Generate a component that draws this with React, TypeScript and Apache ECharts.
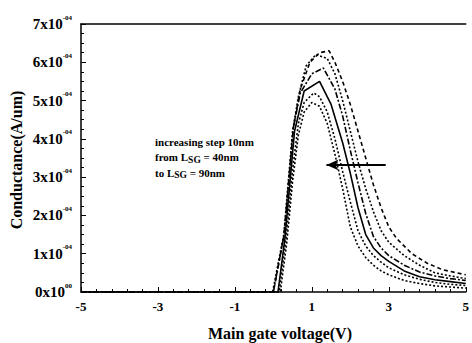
import React, { useEffect, useRef } from "react";
import * as echarts from "echarts";

// Conductance in units of 1e-4 A/um, voltage in V
const xA = [-5, 0.18, 0.35, 0.5, 0.65, 0.8, 1.0, 1.2, 1.4, 1.6, 1.8, 2.0, 2.2, 2.4, 2.6, 2.8, 3.0, 3.4, 3.8, 4.2, 4.6, 5.0];
const yA = [0, 0, 1.3, 2.9, 4.1, 4.7, 4.95, 4.85, 4.4, 3.6, 2.7, 1.7, 1.2, 0.9, 0.7, 0.55, 0.45, 0.3, 0.22, 0.16, 0.13, 0.1];
const xB = [-5, 0.15, 0.33, 0.5, 0.65, 0.8, 1.05, 1.2, 1.4, 1.6, 1.8, 2.0, 2.2, 2.4, 2.6, 2.8, 3.0, 3.4, 3.8, 4.2, 4.6, 5.0];
const yB = [0, 0, 1.4, 3.2, 4.4, 4.95, 5.2, 5.1, 4.7, 4.0, 3.15, 2.35, 1.6, 1.2, 0.95, 0.78, 0.63, 0.45, 0.33, 0.25, 0.2, 0.17];
const xC = [-5, 0.12, 0.3, 0.55, 0.8, 1.2, 1.5, 1.8, 2.0, 2.2, 2.4, 2.6, 2.8, 3.0, 3.4, 3.8, 4.2, 4.6, 5.0];
const yC = [0, 0, 1.4, 4.2, 5.25, 5.5, 4.9, 3.9, 3.1, 2.2, 1.5, 1.15, 0.95, 0.8, 0.55, 0.4, 0.32, 0.27, 0.22];
const xD = [-5, 0.0, 0.28, 0.52, 0.7, 1.0, 1.3, 1.6, 1.8, 2.0, 2.2, 2.4, 2.6, 2.8, 3.0, 3.4, 3.8, 4.2, 4.6, 5.0];
const yD = [0, 0, 1.5, 4.3, 5.2, 5.7, 5.85, 5.3, 4.6, 3.7, 2.85, 2.05, 1.45, 1.15, 0.95, 0.7, 0.52, 0.42, 0.35, 0.3];
const xE = [-5, -0.02, 0.27, 0.5, 0.65, 0.85, 1.1, 1.4, 1.6, 1.8, 2.0, 2.2, 2.4, 2.6, 2.8, 3.0, 3.4, 3.8, 4.2, 4.6, 5.0];
const yE = [0, 0, 1.5, 4.2, 5.1, 5.9, 6.2, 6.1, 5.7, 5.0, 4.2, 3.4, 2.7, 2.1, 1.6, 1.3, 0.95, 0.7, 0.5, 0.42, 0.35];
const xF = [-5, 0.0, 0.28, 0.52, 0.7, 0.95, 1.2, 1.45, 1.6, 1.8, 2.0, 2.2, 2.4, 2.6, 2.8, 3.0, 3.2, 3.6, 4.0, 4.4, 5.0];
const yF = [0, 0, 1.5, 4.3, 5.3, 6.0, 6.25, 6.3, 6.0, 5.5, 4.9, 4.2, 3.5, 2.8, 2.2, 1.7, 1.4, 1.0, 0.75, 0.58, 0.45];

const xTicks = [-5, -3, -1, 1, 3, 5];
const yTickExp: Record<number, string> = { 0: "00", 1: "-04", 2: "-04", 3: "-04", 4: "-04", 5: "-04", 6: "-04", 7: "-04" };
const arrowFrom = [2.92, 3.32];
const arrowTo = [1.38, 3.32];

const zip = (xs: number[], ys: number[]) => xs.map((x, i) => [x, ys[i]]);

const SERIF = "'Liberation Serif', 'DejaVu Serif', serif";

export default function App() {
  const ref = useRef<HTMLDivElement>(null);
  useEffect(() => {
    if (!ref.current) return;
    const chart = echarts.init(ref.current, null, { renderer: "svg" });
    const mk = (name: string, xs: number[], ys: number[], type: any) => ({
      name,
      type: "line",
      data: zip(xs, ys),
      symbol: "none",
      lineStyle: { color: "#000", width: 1.6, type },
    });
    chart.setOption({
      animation: false,
      backgroundColor: "#fff",
      grid: { left: 81, right: 1, top: 24, bottom: 51 },
      xAxis: [
        {
          type: "value",
          min: -5,
          max: 5,
          interval: 2,
          axisLine: { show: true, onZero: false, lineStyle: { color: "#000", width: 1.5 } },
          axisTick: { show: true, inside: true, length: 5, lineStyle: { color: "#000" } },
          minorTick: { show: true, splitNumber: 5, length: 3, lineStyle: { color: "#000" } },
          splitLine: { show: false },
          axisLabel: {
            margin: 8,
            color: "#000",
            fontFamily: SERIF,
            fontWeight: "bold",
            fontSize: 13,
            formatter: (v: number) => (xTicks.includes(v) ? String(v) : ""),
          },
        },
        {
          type: "value",
          position: "top",
          min: -5,
          max: 5,
          axisLine: { show: true, onZero: false, lineStyle: { color: "#000", width: 1.5 } },
          axisTick: { show: false },
          axisLabel: { show: false },
          splitLine: { show: false },
        },
      ],
      yAxis: {
        type: "value",
        min: 0,
        max: 7,
        interval: 1,
        axisLine: { show: true, onZero: false, lineStyle: { color: "#000", width: 1.5 } },
        axisTick: { show: true, inside: true, length: 5, lineStyle: { color: "#000" } },
        minorTick: { show: true, splitNumber: 4, length: 3, lineStyle: { color: "#000" } },
        splitLine: { show: false },
        axisLabel: {
          margin: 9,
          color: "#000",
          formatter: (v: number) => `{b|${v}x10}{s|${yTickExp[v] ?? ""}}`,
          rich: {
            b: { fontFamily: SERIF, fontWeight: "bold", fontSize: 15, color: "#000", lineHeight: 16 },
            s: { fontFamily: SERIF, fontWeight: "bold", fontSize: 7, color: "#000", padding: [0, 0, 13, 0], lineHeight: 8 },
          },
        },
      },
      series: [
        mk("40", xA, yA, [2, 2]),
        mk("50", xB, yB, [2, 2]),
        mk("60", xC, yC, "solid"),
        mk("70", xD, yD, [6, 2, 2, 2]),
        mk("80", xE, yE, [2, 2]),
        {
          ...mk("90", xF, yF, [4, 3]),
          markLine: {
            silent: true,
            symbol: ["none", "arrow"],
            symbolSize: [8, 12],
            label: { show: false },
            lineStyle: { color: "#000", width: 2, type: "solid" },
            data: [[{ coord: arrowFrom }, { coord: arrowTo }]],
          },
        },
      ],
      graphic: [
        {
          type: "text",
          rotation: Math.PI / 2,
          x: 16,
          y: 160,
          style: {
            text: "Conductance(A/um)",
            fontFamily: SERIF,
            fontWeight: "bold",
            fontSize: 16,
            fill: "#000",
            align: "center",
            verticalAlign: "middle",
          },
        },
        {
          type: "text",
          x: 280,
          y: 333,
          style: {
            text: "Main gate voltage(V)",
            fontFamily: SERIF,
            fontWeight: "bold",
            fontSize: 16,
            fill: "#000",
            align: "center",
            verticalAlign: "middle",
          },
        },
        {
          type: "text",
          x: 155,
          y: 134,
          style: {
            text: "increasing step 10nm\nfrom L{sub|SG} = 40nm\nto L{sub|SG} = 90nm",
            fontFamily: SERIF,
            fontWeight: "bold",
            fontSize: 11,
            lineHeight: 15.5,
            fill: "#000",
            rich: {
              sub: { fontFamily: SERIF, fontWeight: "bold", fontSize: 9.5, padding: [5, 0, 0, 0], fill: "#000" },
            },
          },
        },
      ],
    });
    return () => chart.dispose();
  }, []);
  return <div ref={ref} style={{ width: 472, height: 343, position: "absolute", left: 0, top: 0 }} />;
}
